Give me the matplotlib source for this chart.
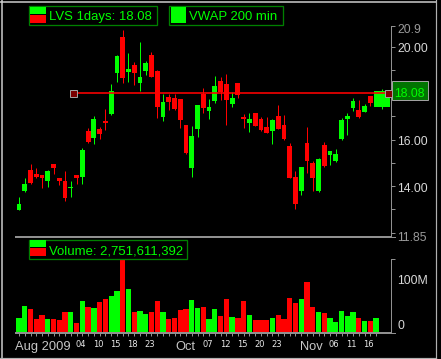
import matplotlib
matplotlib.use('Agg')
import matplotlib.pyplot as plt
from matplotlib import font_manager as fm
from matplotlib.patches import Rectangle
import matplotlib.transforms as mtrans

# ---------------- data ----------------
opens = [12.95, 13.77, 14.71, 14.54, 14.50, 14.24, 14.97, 14.33, 14.20, 13.90,
         14.50, 14.41, 16.39, 16.09, 16.47, 16.82, 17.12, 18.88, 20.42, 18.92,
         19.22, 18.45, 18.96, 19.65, 18.96, 16.99, 17.85, 17.80, 17.76, 16.64,
         14.80, 16.47, 17.97, 17.24, 17.67, 18.53, 18.40, 17.55, 18.45, 16.99,
         16.73, 17.16, 16.90, 16.56, 16.39, 17.03, 16.64, 15.74, 14.41, 13.77,
         15.87, 15.01, 13.81, 15.79, 15.36, 15.10, 16.04, 16.90, 17.37, 17.29,
         17.20, 17.89, 17.42]
highs = [13.51, 14.33, 14.97, 14.76, 14.50, 14.71, 14.97, 14.33, 14.63, 14.24,
         14.50, 15.66, 16.52, 17.03, 16.56, 17.33, 18.40, 19.65, 20.72, 19.73,
         19.35, 20.21, 19.39, 19.78, 19.00, 17.97, 17.97, 17.97, 17.76, 16.64,
         16.60, 17.50, 18.23, 17.76, 18.75, 18.70, 18.83, 18.06, 18.45, 17.12,
         17.16, 17.16, 16.99, 16.99, 16.90, 17.50, 17.07, 15.87, 14.67, 14.84,
         16.56, 15.10, 15.23, 15.91, 15.53, 15.61, 16.94, 17.16, 17.80, 17.72,
         17.55, 17.89, 18.19]
lows = [12.95, 13.73, 14.07, 14.33, 13.94, 13.98, 14.54, 14.03, 13.34, 13.51,
        14.11, 14.11, 15.87, 15.83, 16.04, 16.43, 17.07, 18.49, 18.45, 18.49,
        18.36, 18.10, 18.79, 18.70, 16.94, 16.82, 17.29, 17.29, 16.52, 15.40,
        14.41, 16.13, 17.16, 16.90, 17.59, 17.72, 16.64, 17.42, 17.80, 16.52,
        16.34, 16.60, 16.39, 16.30, 15.83, 16.47, 16.00, 14.33, 13.00, 13.60,
        14.58, 13.77, 13.73, 14.84, 14.93, 15.06, 16.00, 16.21, 17.24, 16.94,
        17.20, 17.46, 17.33]
closes = [13.25, 14.07, 14.15, 14.41, 14.37, 14.67, 14.76, 14.24, 13.47, 13.98,
          14.37, 15.57, 15.91, 16.90, 16.26, 16.73, 18.10, 19.61, 18.66, 19.05,
          18.88, 18.70, 19.30, 18.70, 17.42, 17.63, 17.63, 17.33, 16.86, 15.44,
          16.17, 17.50, 17.37, 17.42, 18.32, 18.06, 17.72, 17.80, 17.93, 16.90,
          16.90, 16.60, 16.43, 16.30, 16.86, 16.47, 16.04, 14.33, 13.21, 14.84,
          15.10, 14.33, 15.18, 14.88, 15.53, 15.40, 16.86, 17.03, 17.67, 16.99,
          17.46, 17.59, 18.08]
volumes_m = [28, 52, 46, 26, 34, 26, 26, 24, 40, 40, 18, 62, 50, 48, 60, 66, 72,
             82, 146, 86, 40, 42, 36, 40, 62, 40, 26, 28, 44, 46, 64, 48, 50, 26,
             46, 32, 66, 30, 28, 62, 34, 24, 24, 24, 28, 34, 26, 68, 58, 66, 100,
             50, 40, 38, 28, 20, 42, 32, 40, 28, 22, 22, 28]
tick_idx = [11, 14, 17, 20, 23, 29, 33, 36, 39, 42, 45, 51, 55, 58, 61]
tick_lbl = ['04', '10', '15', '18', '23', 'Oct', '07', '12', '15', '20', '23',
            'Nov', '06', '11', '16']
month_lbls = {'Oct', 'Nov'}
first_label = 'Aug 2009'
symbol_text = 'LVS 1days: 18.08'
vwap_text = 'VWAP 200 min'
volume_text = 'Volume: 2,751,611,392'
last_price = 18.08
hline_level = 18.0
hline_start = 9.46
price_axis_labels = [(20.9, '20.9', '#9a9a9a', -7),
                     (20.0, '20.00', '#d8d8d8', -5.5),
                     (16.0, '16.00', '#d8d8d8', -5.5),
                     (14.0, '14.00', '#d8d8d8', -5.5),
                     (11.85, '11.85', '#9a9a9a', -5)]
vol_axis_labels = [(100, '100M', -2), (0, '0', 3)]

# ---------------- style ----------------
W, H = 441, 359
names = set(f.name for f in fm.fontManager.ttflist)
if 'Liberation Sans Narrow' in names:
    NF, k = 'Liberation Sans Narrow', 1.0
else:
    NF, k = 'Liberation Sans', 0.84
GREEN = '#00ff00'
RED = '#ff0000'
GREY = '#909090'
PX = 0.72  # points per pixel

fig = plt.figure(figsize=(W / 100, H / 100), dpi=100, facecolor='black')

n = len(opens)
xmin, xmax = (15 - 19) / 5.76, (391 - 19) / 5.76
PMIN, PMAX = 11.85, 20.9
P_TOP, P_BOT = 26, 236
V_TOP, V_BOT = 259, 332

ax = fig.add_axes([15 / W, 1 - P_BOT / H, 376 / W, (P_BOT - P_TOP) / H])
axv = fig.add_axes([15 / W, 1 - V_BOT / H, 376 / W, (V_BOT - V_TOP) / H])
for a in (ax, axv):
    a.set_facecolor('black')
    a.set_xlim(xmin, xmax)
    for s in ('top', 'left'):
        a.spines[s].set_visible(False)
    for s in ('right', 'bottom'):
        a.spines[s].set_color(GREY)
        a.spines[s].set_linewidth(PX)
ax.set_ylim(PMIN, PMAX)
axv.set_ylim(0, max(volumes_m))

# price ticks
ax.yaxis.tick_right()
ax.set_yticks([12, 13, 14, 15, 16, 17, 18, 19, 20, 20.9])
ax.tick_params(axis='y', direction='out', length=4 * PX, width=PX, color=GREY,
               labelright=False, labelleft=False)
ax.set_xticks([])
axv.yaxis.tick_right()
axv.set_yticks([max(volumes_m)])
axv.tick_params(axis='y', direction='out', length=4 * PX, width=PX, color=GREY,
                labelright=False, labelleft=False)
axv.set_xticks(range(n))
axv.tick_params(axis='x', direction='out', length=4 * PX, width=PX, color=GREY,
                labelbottom=False)

# candles
bw = 0.84
for i in range(n):
    o, h, l, c = opens[i], highs[i], lows[i], closes[i]
    col = GREEN if c >= o else RED
    x = i
    w = bw
    if i == n - 1:
        x = i + 1.0
        w = 2.78
    ax.plot([x, x], [l, h], color=col, lw=PX, zorder=2, solid_capstyle='butt')
    ax.add_patch(Rectangle((x - w / 2, min(o, c)), w, max(abs(c - o), 0.06),
                           facecolor=col, edgecolor='none', zorder=3))

# horizontal line at level
ax.plot([hline_start, xmax + 1], [hline_level, hline_level], color=RED,
        lw=PX * 1.6, zorder=4)
for xc in (hline_start, (388 - 19) / 5.76):
    ax.plot([xc], [hline_level], marker='s', ms=7 * PX, mfc='#7a0000',
            mec='#a0a0a0', mew=PX, zorder=5, clip_on=True)

# volume bars
vcols = [GREEN if closes[i] >= opens[i] else RED for i in range(n)]
axv.bar(range(n), volumes_m, width=0.92, color=vcols, linewidth=0, zorder=2)

# price axis labels
trp = mtrans.blended_transform_factory(ax.transAxes, ax.transData)
for val, s, col, dy in price_axis_labels:
    t = mtrans.offset_copy(trp, fig=fig, x=6, y=dy, units='dots')
    ax.text(1.0, val, s, transform=t, ha='left', va='baseline', color=col,
            fontsize=10.5 * k, family=NF)
trv = mtrans.blended_transform_factory(axv.transAxes, axv.transData)
for val, s, dy in vol_axis_labels:
    t = mtrans.offset_copy(trv, fig=fig, x=6, y=dy, units='dots')
    axv.text(1.0, val, s, transform=t, ha='left', va='baseline', color='#d8d8d8',
             fontsize=10.5 * k, family=NF)

# date labels
trd = mtrans.blended_transform_factory(axv.transData, axv.transAxes)
for xi, s in zip(tick_idx, tick_lbl):
    if s in month_lbls:
        t = mtrans.offset_copy(trd, fig=fig, x=-1, y=-18, units='dots')
        axv.text(xi, 0, s, transform=t, ha='center', va='baseline',
                 color='#c8c8c8', fontsize=11 * k, family=NF)
    else:
        t = mtrans.offset_copy(trd, fig=fig, x=-1.5, y=-15, units='dots')
        axv.text(xi, 0, s, transform=t, ha='center', va='baseline',
                 color='#e8e8e8', fontsize=6, family='DejaVu Sans')
t = mtrans.offset_copy(axv.transAxes, fig=fig, x=0, y=-18, units='dots')
axv.text(0, 0, first_label, transform=t, ha='left', va='baseline',
         color='#c8c8c8', fontsize=11 * k, family=NF)

# overlay in pixel coordinates for legends / frame / price box
ov = fig.add_axes([0, 0, 1, 1])
ov.set_xlim(0, W)
ov.set_ylim(H, 0)
ov.axis('off')
ov.patch.set_alpha(0)
ov.set_zorder(10)


def legend_box(x0, y0, x1, y1, swatches, text, tx):
    ov.add_patch(Rectangle((x0 + 0.5, y0 + 0.5), x1 - x0, y1 - y0, facecolor='black',
                           edgecolor='#008000', lw=1.3 * PX))
    for (sy0, sy1, col, sx0, sx1) in swatches:
        ov.add_patch(Rectangle((sx0, sy0), sx1 - sx0, sy1 - sy0, facecolor=col,
                               edgecolor='none'))
    ov.text(tx, y1 - 4, text, ha='left', va='baseline', color=GREEN,
            fontsize=11.3 * k, family=NF)


legend_box(28, 5, 156, 24, [(7, 14, GREEN, 30, 46), (15, 23, RED, 30, 46)],
           symbol_text, 49)
legend_box(168, 5, 282, 24, [(7, 23, GREEN, 171, 186)], vwap_text, 189)
legend_box(28, 239, 186, 258, [(240, 247, GREEN, 30, 46), (248, 256, RED, 30, 46)],
           volume_text, 49)

# last price box on axis
yp = P_TOP + (PMAX - last_price) / (PMAX - PMIN) * (P_BOT - P_TOP)
ov.add_patch(Rectangle((391.5, yp - 10), 36, 19, facecolor='#007400',
                       edgecolor='#a0a0a0', lw=PX))
ov.text(409.5, yp + 5.5, f'{last_price:.2f}', ha='center', va='baseline',
        color=GREEN, fontsize=10.5 * k, family=NF)

# price panel base line extension & frame
ov.plot([15, 395], [236.5, 236.5], color=GREY, lw=PX)
ov.plot([15, 395], [332.5, 332.5], color=GREY, lw=PX)
ov.plot([0, 436], [1.5, 1.5], color='#d0d0d0', lw=1.5 * PX)
ov.plot([1.5, 1.5], [0, 358], color='#d0d0d0', lw=1.5 * PX)
ov.plot([435.5, 435.5], [0, 358], color='#b0b0b0', lw=1.2 * PX)
ov.plot([0, 436], [357.5, 357.5], color='#b0b0b0', lw=1.2 * PX)

fig.savefig('out.png', dpi=100, facecolor='black')
